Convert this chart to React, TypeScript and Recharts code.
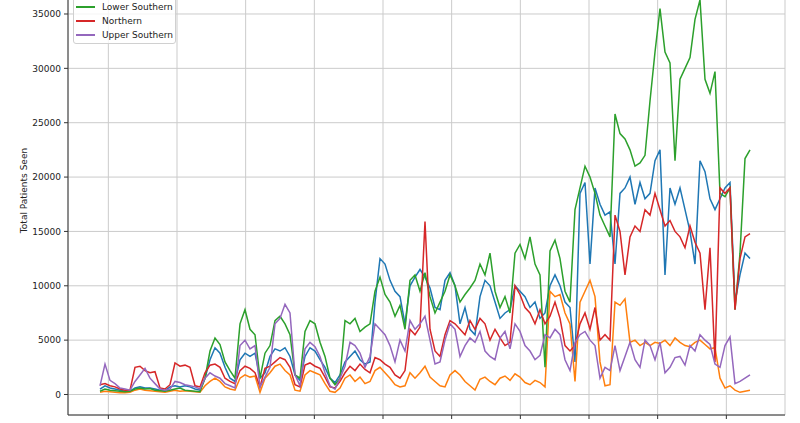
import { LineChart, Line, XAxis, YAxis, CartesianGrid } from 'recharts';

// one sample every 5px of the original plot (x index 0..130)
const central = [
  500, 800, 600, 500, 400, 300, 300, 600, 700, 600,
  600, 500, 400, 350, 700, 800, 700, 800, 700, 500,
  400, 1500, 3200, 4300, 3800, 2500, 1500, 1200, 3200, 3800,
  3500, 3800, 1500, 2000, 3500, 4200, 4000, 4300, 3500, 1800,
  1300, 3500, 4300, 4000, 3200, 2500, 1500, 1100, 1800, 3000,
  3500, 4000, 3200, 2800, 3000, 8500, 12500, 12000, 10500, 9500,
  9000, 6500, 10000, 10800, 11500, 10800, 9800, 8000, 7800, 10500,
  11200, 10000, 6500, 8000, 6000, 5500, 9000, 10500, 10000, 8500,
  7000, 7500, 7800, 10000, 9500, 9000, 8000, 8500, 7000, 7500,
  10000, 11000, 10000, 8500, 8000, 3000, 18500, 19500, 12000, 19000,
  17500, 16500, 16800, 12000, 18500, 19000, 20000, 17500, 19500, 18000,
  18500, 21500, 22500, 11000, 19000, 17500, 19000, 17000, 15000, 12000,
  21500, 20500, 18000, 17000, 18000, 19000, 19500, 8500, 11000, 13000,
  12500,
];

const eastern = [
  200, 300, 250, 200, 150, 150, 200, 400, 500, 400,
  350, 300, 250, 200, 300, 400, 300, 350, 300, 250,
  200, 800, 1200, 1500, 1200, 700, 500, 400, 1500, 1800,
  1600, 1700, 200, 1500, 2000, 2600, 2800, 2200, 1800, 400,
  300, 1800, 2200, 2000, 1800, 1000, 300, 200, 600, 1500,
  1800, 1200, 1600, 1000, 1200, 2200, 2500, 2000, 1500, 900,
  700, 800, 2000, 1500, 2000, 2600, 1600, 1200, 800, 700,
  1800, 2200, 1800, 1200, 800, 400, 1400, 1600, 1200, 900,
  1500, 1700, 1300, 1900, 1600, 1100, 900, 1300, 1100, 700,
  9500, 9000, 9200, 7500, 6500, 1200, 8500, 9500, 10500, 9000,
  3000, 800, 900, 8500, 8200, 8800, 4800, 5000, 4500, 4800,
  4500, 4800, 4700, 5000, 4500, 5200, 4800, 4500, 4400, 4800,
  5000, 4600, 4200, 4300, 1500, 600, 800, 400, 200, 300,
  400,
];

const lowerSouthern = [
  300, 500, 400, 350, 300, 250, 300, 500, 600, 500,
  550, 400, 350, 300, 400, 500, 600, 400, 350, 300,
  250, 1500, 4000, 5200, 4600, 3000, 2200, 1500, 6500, 7800,
  6000, 5500, 1500, 3800, 4500, 6800, 7200, 6500, 5500, 1800,
  1500, 5800, 6800, 6500, 4800, 3500, 1500, 900, 1500, 6800,
  6500, 7000, 5800, 6200, 6500, 9500, 10800, 9200, 8500, 7200,
  8200, 6000, 10500, 11000, 9500, 11200, 9000, 7500, 8500, 9500,
  11000, 10000, 8500, 9200, 9800, 10500, 12000, 11000, 13000, 9500,
  8000, 9000, 7500, 13000, 13800, 12500, 14500, 12000, 11000, 2500,
  13200, 14200, 12500, 9500, 8500, 17000, 19000, 21000, 20000, 18500,
  16500, 15500, 14500, 25800, 24000, 23500, 22500, 21000, 21300, 22000,
  27000, 31500, 35500, 31500, 30500, 21500, 29000, 30000, 31000, 34500,
  36300, 29000, 27700, 29700, 18500, 18200, 19000, 7800, 13000, 21700,
  22500,
];

const northern = [
  900, 1000, 800, 700, 500, 400, 400, 2500, 2600, 2200,
  2000, 2100, 600, 500, 900, 2900, 2600, 2700, 2500, 800,
  700, 2000, 2700, 2800, 2500, 1500, 1200, 1000, 2200, 2600,
  2400, 2000, 700, 2400, 2600, 3000, 3400, 3200, 2500, 900,
  700, 2700, 2900, 2600, 2400, 1600, 700, 600, 1200, 2000,
  2600, 2200, 2800, 2300, 2000, 3400, 3200, 2800, 2500, 1800,
  1500, 2200, 6000, 5500, 6200, 15900, 6000, 4000, 3500, 5500,
  6800, 6500, 6000, 5500, 6800, 6000, 7000, 6500, 5000, 6000,
  5200, 4500, 4800, 10000, 9200, 8000, 7500, 6500, 7800, 6500,
  7200, 8500, 7000, 4500, 4000, 4500, 6500, 7500, 6000, 8000,
  5000, 5500, 5000, 16500, 15000, 11000, 14500, 15500, 15000, 17000,
  16500, 18500, 17000, 15500, 16000, 15000, 14500, 13500, 15500, 14000,
  13000, 7800, 13500, 3000, 19000, 18500, 19000, 7800, 12500, 14500,
  14800,
];

const upperSouthern = [
  800, 2800, 1300, 1000, 600, 500, 400, 1200, 1800, 2400,
  1500, 1000, 500, 400, 500, 1200, 1100, 900, 800, 700,
  500, 1500, 2000, 1700, 1500, 1000, 800, 600, 4500, 5000,
  4200, 4500, 700, 1600, 2500, 6500, 7000, 8300, 7500, 1800,
  800, 4200, 4800, 4400, 3500, 2000, 800, 500, 1500, 2600,
  4800, 4500, 3800, 2500, 3500, 6500, 6000, 5500, 4500, 3000,
  5000, 4000, 6800, 6000, 6500, 7200, 5000, 2800, 3000, 5000,
  6500, 6000, 3500, 4500, 5200, 4800, 5800, 4000, 3500, 3200,
  5200, 5800, 4200, 6500, 5800, 4500, 4000, 3200, 3600, 5500,
  5200, 6000, 5500, 3200, 2200, 4800, 5500, 5800, 5000, 4500,
  1500, 2500, 2200, 4500, 2200, 3500, 4800, 3200, 2500, 5000,
  4500, 3200, 4800, 2000, 2500, 3400, 3500, 2700, 4500, 4000,
  5500, 5000, 4600, 2800, 2500, 4500, 5300, 1000, 1200, 1500,
  1800,
];

const xTicks = [1.67, 15.4, 29.13, 42.87, 56.6, 70.33, 84.07, 97.8, 111.53, 125.27];
const yTicks = [0, 5000, 10000, 15000, 20000, 25000, 30000, 35000];

const series = [
  { key: 'central', name: 'Central', color: '#1f77b4', values: central, inLegend: false },
  { key: 'eastern', name: 'Eastern', color: '#ff7f0e', values: eastern, inLegend: false },
  { key: 'lowerSouthern', name: 'Lower Southern', color: '#2ca02c', values: lowerSouthern, inLegend: true },
  { key: 'northern', name: 'Northern', color: '#d62728', values: northern, inLegend: true },
  { key: 'upperSouthern', name: 'Upper Southern', color: '#9467bd', values: upperSouthern, inLegend: true },
];

const data = central.map((_, i) => {
  const row: Record<string, number> = { idx: i };
  series.forEach((s) => {
    row[s.key] = s.values[i];
  });
  return row;
});

const FONT = '"DejaVu Sans", sans-serif';
const TOP_CUT = 34;

function YLabel(props: any) {
  const vb = props.viewBox || { x: 8, y: 0, width: 60, height: 449 };
  const cx = 24;
  const cy = vb.y + vb.height / 2;
  return (
    <text
      x={cx}
      y={cy}
      transform={`rotate(-90 ${cx} ${cy})`}
      textAnchor="middle"
      dominantBaseline="central"
      fontSize={9}
      fontFamily={FONT}
      fill="#222"
    >
      Total Patients Seen
    </text>
  );
}

// x tick labels sit below the visible crop, so only the marks are drawn
const NoLabel = () => <g />;

export default function App() {
  return (
    <div
      style={{
        position: 'absolute',
        left: 0,
        top: 0,
        width: 800,
        height: 423,
        overflow: 'hidden',
        background: '#fff',
        fontFamily: FONT,
      }}
    >
      <div style={{ position: 'absolute', left: 0, top: -TOP_CUT }}>
        <LineChart width={800} height={457} data={data} margin={{ top: 0, right: 15, bottom: 0, left: 8 }}>
          <CartesianGrid stroke="#cbcbcb" strokeWidth={1} />
          <XAxis
            type="number"
            dataKey="idx"
            domain={[-6.4, 137]}
            allowDataOverflow
            ticks={xTicks}
            interval={0}
            tick={NoLabel}
            tickSize={4}
            height={8}
            axisLine={{ stroke: '#333' }}
            tickLine={{ stroke: '#333' }}
          />
          <YAxis
            domain={[-1886, 39415]}
            allowDataOverflow
            ticks={yTicks}
            interval={0}
            width={60}
            tickSize={4}
            tickMargin={3}
            axisLine={{ stroke: '#333' }}
            tickLine={{ stroke: '#333' }}
            tick={{ fontSize: 9, fill: '#222', fontFamily: FONT }}
            label={<YLabel />}
          />
          <YAxis
            yAxisId="frame"
            orientation="right"
            width={0}
            tick={false}
            tickLine={false}
            axisLine={{ stroke: '#333' }}
          />
          {series.map((s) => (
            <Line
              key={s.key}
              type="linear"
              dataKey={s.key}
              name={s.name}
              stroke={s.color}
              strokeWidth={1.5}
              dot={false}
              activeDot={false}
              isAnimationActive={false}
            />
          ))}
        </LineChart>
      </div>
      <div
        style={{
          position: 'absolute',
          left: 73,
          top: -30,
          width: 101,
          padding: '29px 0 1px 0',
          border: '1px solid #d0d0d0',
          borderRadius: 3,
          background: 'rgba(255,255,255,0.8)',
        }}
      >
        {series
          .filter((s) => s.inLegend)
          .map((s) => (
            <div key={s.key} style={{ display: 'flex', alignItems: 'center', height: 14 }}>
              <div style={{ marginLeft: 2, width: 19, height: 1.5, background: s.color }} />
              <span style={{ marginLeft: 7, fontSize: 9, lineHeight: '14px', color: '#222' }}>{s.name}</span>
            </div>
          ))}
      </div>
    </div>
  );
}
